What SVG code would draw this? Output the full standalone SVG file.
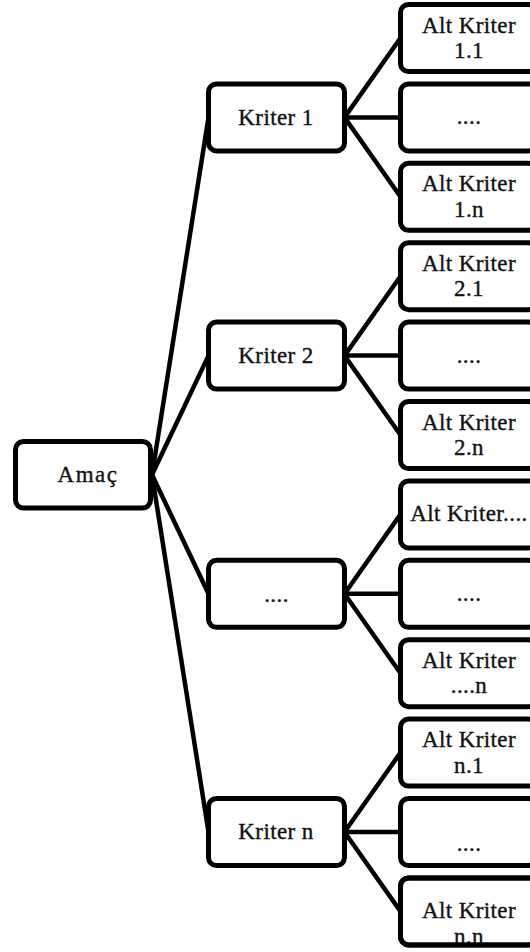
<svg xmlns="http://www.w3.org/2000/svg" width="530" height="952" viewBox="0 0 530 952">
  <style>
    .box { fill: #ffffff; stroke: #000000; stroke-width: 5; }
    .edge { fill: none; stroke: #000000; stroke-width: 5; }
    .link { stroke: #000000; stroke-width: 4.5; fill: none; }
    text { font-family: "Liberation Serif", "Times New Roman", serif; font-size: 23px; letter-spacing: 0.4px; fill: #111111; stroke: #111111; stroke-width: 0.35px; text-anchor: middle; }
  </style>
  <defs>
    <clipPath id="clip-nn">
      <rect x="398" y="875.4" width="150" height="72"/>
    </clipPath>
  </defs>
  <rect width="530" height="952" fill="#ffffff"/>

  <!-- connectors -->
  <g id="connectors" class="link">
    <line x1="152" y1="474.8" x2="208.5" y2="117.4"/>
    <line x1="152" y1="474.8" x2="208.5" y2="355.6"/>
    <line x1="152" y1="474.8" x2="208.5" y2="593.8"/>
    <line x1="152" y1="474.8" x2="208.5" y2="832"/>

    <line x1="344.5" y1="117.4" x2="400.5" y2="38"/>
    <line x1="344.5" y1="117.4" x2="400.5" y2="117.4"/>
    <line x1="344.5" y1="117.4" x2="400.5" y2="196.8"/>

    <line x1="344.5" y1="355.6" x2="400.5" y2="276.2"/>
    <line x1="344.5" y1="355.6" x2="400.5" y2="355.6"/>
    <line x1="344.5" y1="355.6" x2="400.5" y2="435"/>

    <line x1="344.5" y1="593.8" x2="400.5" y2="514.4"/>
    <line x1="344.5" y1="593.8" x2="400.5" y2="593.8"/>
    <line x1="344.5" y1="593.8" x2="400.5" y2="673.2"/>

    <line x1="344.5" y1="832" x2="400.5" y2="752.6"/>
    <line x1="344.5" y1="832" x2="400.5" y2="832"/>
    <line x1="344.5" y1="832" x2="400.5" y2="911.4"/>
  </g>

  <!-- goal -->
  <g id="amac">
    <rect class="box" x="15.5" y="441.5" width="135" height="66.5" rx="8"/>
    <text x="88" y="482" style="letter-spacing:1.5px">Amaç</text>
  </g>

  <!-- criteria -->
  <g id="kriter-1">
    <rect class="box" x="208.5" y="83.9" width="136" height="67" rx="8"/>
    <text x="276" y="124.6">Kriter 1</text>
  </g>
  <g id="kriter-2">
    <rect class="box" x="208.5" y="322.1" width="136" height="67" rx="8"/>
    <text x="276" y="362.8">Kriter 2</text>
  </g>
  <g id="kriter-dots">
    <rect class="box" x="208.5" y="560.3" width="136" height="67" rx="8"/>
    <text x="276.5" y="601.5">....</text>
  </g>
  <g id="kriter-n">
    <rect class="box" x="208.5" y="798.5" width="136" height="67" rx="8"/>
    <text x="276" y="839.3">Kriter n</text>
  </g>

  <!-- sub-criteria, group 1 -->
  <g id="alt-1-1">
    <rect class="box" x="400.5" y="4.5" width="136" height="67" rx="8"/>
    <text x="469" y="32.5">Alt Kriter</text>
    <text x="469" y="58">1.1</text>
  </g>
  <g id="alt-1-dots">
    <rect class="box" x="400.5" y="83.9" width="136" height="67" rx="8"/>
    <text x="469" y="124.4">....</text>
  </g>
  <g id="alt-1-n">
    <rect class="box" x="400.5" y="163.3" width="136" height="67" rx="8"/>
    <text x="469" y="191.3">Alt Kriter</text>
    <text x="469" y="216.8">1.n</text>
  </g>

  <!-- sub-criteria, group 2 -->
  <g id="alt-2-1">
    <rect class="box" x="400.5" y="242.7" width="136" height="67" rx="8"/>
    <text x="469" y="270.7">Alt Kriter</text>
    <text x="469" y="296.2">2.1</text>
  </g>
  <g id="alt-2-dots">
    <rect class="box" x="400.5" y="322.1" width="136" height="67" rx="8"/>
    <text x="469" y="362.6">....</text>
  </g>
  <g id="alt-2-n">
    <rect class="box" x="400.5" y="401.5" width="136" height="67" rx="8"/>
    <text x="469" y="429.5">Alt Kriter</text>
    <text x="469" y="455">2.n</text>
  </g>

  <!-- sub-criteria, group 3 -->
  <g id="alt-dots-1">
    <rect class="box" x="400.5" y="480.9" width="136" height="67" rx="8"/>
    <text x="469" y="521.4">Alt Kriter....</text>
  </g>
  <g id="alt-dots-dots">
    <rect class="box" x="400.5" y="560.3" width="136" height="67" rx="8"/>
    <text x="469" y="600.8">....</text>
  </g>
  <g id="alt-dots-n">
    <rect class="box" x="400.5" y="639.7" width="136" height="67" rx="8"/>
    <text x="469" y="667.7">Alt Kriter</text>
    <text x="469" y="693.2">....n</text>
  </g>

  <!-- sub-criteria, group n -->
  <g id="alt-n-1">
    <rect class="box" x="400.5" y="719.1" width="136" height="67" rx="8"/>
    <text x="469" y="747.1">Alt Kriter</text>
    <text x="469" y="772.6">n.1</text>
  </g>
  <g id="alt-n-dots">
    <rect class="box" x="400.5" y="798.5" width="136" height="67" rx="8"/>
    <text x="469" y="851">....</text>
  </g>
  <g id="alt-n-n">
    <rect class="box" x="400.5" y="877.9" width="136" height="67" rx="8"/>
    <g clip-path="url(#clip-nn)">
      <text x="469" y="918.4">Alt Kriter</text>
      <text x="469" y="944">n.n</text>
    </g>
    <rect class="edge" x="400.5" y="877.9" width="136" height="67" rx="8"/>
  </g>
</svg>
